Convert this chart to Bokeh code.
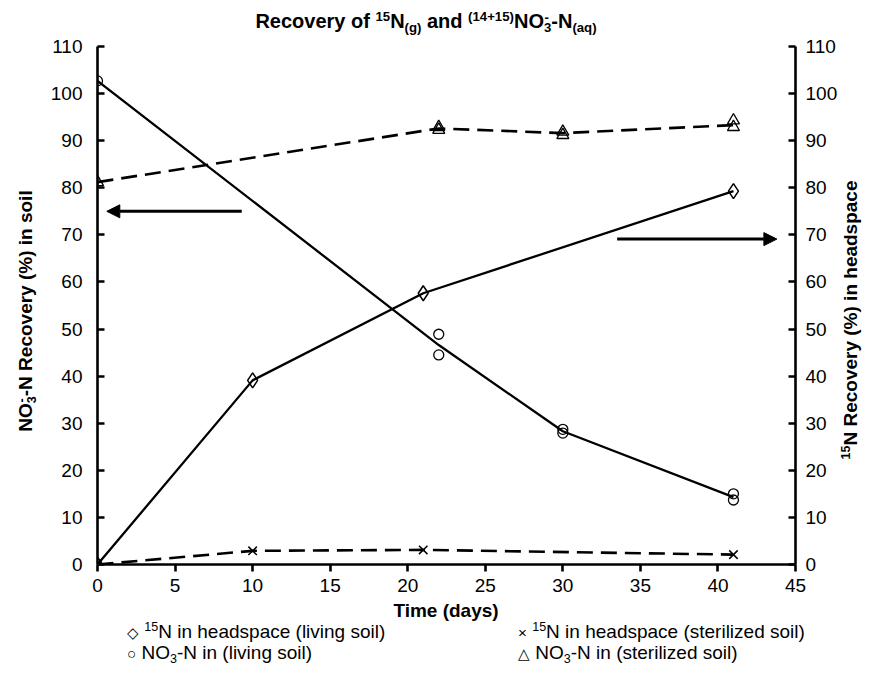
import math
from bokeh.plotting import figure
from bokeh.layouts import column, row
from bokeh.models import Range1d, LinearAxis, Arrow, NormalHead, FixedTicker, Div
from bokeh.embed import file_html
from bokeh.resources import INLINE

# ---------------- data ----------------
days_hs_living = [0, 10, 21, 41]
hs_living = [0.0, 39.1, 57.6, 79.3]

days_hs_steril = [0, 10, 21, 41]
hs_steril = [0.0, 2.9, 3.1, 2.1]

days_no3_living_rep = [0, 22, 22, 30, 30, 41, 41]
no3_living_rep = [102.7, 48.9, 44.5, 28.7, 27.9, 15.0, 13.7]
days_no3_living_mean = [0, 22, 30, 41]
no3_living_mean = [102.7, 46.6, 28.3, 14.3]

days_no3_steril_rep = [0, 22, 22, 30, 30, 41, 41]
no3_steril_rep = [81.2, 92.9, 92.3, 91.9, 91.2, 94.3, 92.9]
days_no3_steril_mean = [0, 22, 30, 41]
no3_steril_mean = [81.2, 92.6, 91.6, 93.3]

x_ticks = [0, 5, 10, 15, 20, 25, 30, 35, 40, 45]
y_ticks = [0, 10, 20, 30, 40, 50, 60, 70, 80, 90, 100, 110]

title_html = "Recovery of {sup15}N{sub_g} and {sup1415}NO{stack3}-N{sub_aq}"
left_title_html = "NO{stack3}-N Recovery (%) in soil"
right_title_html = "{sup15}N Recovery (%) in headspace"
x_title = "Time (days)"
legend_items = [
    ("\u25c7", "{sup15}N in headspace (living soil)"),
    ("\u00d7", "{sup15}N in headspace (sterilized soil)"),
    ("\u25cb", "NO{sub3}-N in (living soil)"),
    ("\u25b3", "NO{sub3}-N in (sterilized soil)"),
]

FONT = "Liberation Sans"
FS = 19

# ---------------- layout sizes ----------------
W = 868
TOP_H = 36
LEFT_W, RIGHT_W = 40, 28
MAIN_W = W - LEFT_W - RIGHT_W
MAIN_H = 564
BOT_H = 61
B_LEFT, B_RIGHT, B_TOP, B_BOTTOM = 57, 45, 10, 36
FRAME_H = MAIN_H - B_TOP - B_BOTTOM

# ---------------- main chart ----------------
p = figure(width=MAIN_W, height=MAIN_H, output_backend="svg", toolbar_location=None,
           x_range=Range1d(0, 45), y_range=Range1d(0, 110),
           min_border_left=B_LEFT, min_border_right=B_RIGHT,
           min_border_top=B_TOP, min_border_bottom=B_BOTTOM)
p.outline_line_color = None
p.grid.visible = False
p.background_fill_color = "white"
p.border_fill_color = "white"

p.extra_y_ranges = {"right": Range1d(0, 110)}
p.add_layout(LinearAxis(y_range_name="right"), "right")

for ax in p.xaxis:
    ax.ticker = FixedTicker(ticks=x_ticks)
    ax.major_tick_in = 0
    ax.major_tick_out = 7
    ax.major_label_standoff = 7
for ax in p.yaxis:
    ax.ticker = FixedTicker(ticks=y_ticks)
    ax.major_tick_in = 7
    ax.major_tick_out = 0
p.yaxis[0].major_label_standoff = 15
p.yaxis[1].major_label_standoff = 10
for ax in p.axis:
    ax.axis_line_width = 2.6
    ax.major_tick_line_width = 2.6
    ax.minor_tick_line_color = None
    ax.axis_line_color = "black"
    ax.major_tick_line_color = "black"
    ax.major_label_text_font = FONT
    ax.major_label_text_font_size = f"{FS}px"
    ax.major_label_text_color = "black"
    ax.axis_label = None

# lines (solid = living soil, dashed = sterilized soil)
p.line(days_hs_living, hs_living, line_color="black", line_width=2.3)
p.line(days_no3_living_mean, no3_living_mean, line_color="black", line_width=2.3)
p.line(days_hs_steril, hs_steril, line_color="black", line_width=2.6, line_dash="16 8")
p.line(days_no3_steril_mean, no3_steril_mean, line_color="black", line_width=2.6, line_dash="16 8")

# markers
p.scatter(days_hs_living, hs_living, marker="diamond", size=15, fill_color=None,
          line_color="black", line_width=1.5)
p.scatter(days_hs_steril, hs_steril, marker="x", size=12,
          line_color="black", line_width=1.5)
p.scatter(days_no3_living_rep, no3_living_rep, marker="circle", size=10, fill_color=None,
          line_color="black", line_width=1.3)
p.scatter(days_no3_steril_rep, no3_steril_rep, marker="triangle", size=12, fill_color=None,
          line_color="black", line_width=1.3)

# arrows pointing to the axes
p.add_layout(Arrow(x_start=9.3, y_start=75.0, x_end=0.6, y_end=75.0, line_width=3,
                   end=NormalHead(size=13, fill_color="black", line_color="black")))
p.add_layout(Arrow(x_start=33.5, y_start=69.1, x_end=43.8, y_end=69.1, line_width=3,
                   end=NormalHead(size=13, fill_color="black", line_color="black")))

# ---------------- HTML text (titles, legend) ----------------
SUP = '<span style="font-size:0.66em;position:relative;top:-0.55em">{}</span>'
SUB = '<span style="font-size:0.66em;position:relative;top:0.3em">{}</span>'
STACK = ('<span style="position:relative;display:inline-block">'
         '<span style="font-size:0.66em;position:relative;top:0.3em">3</span>'
         '<span style="font-size:0.66em;position:absolute;left:0.05em;top:-0.25em">-</span></span>')
PARTS = dict(sup15=SUP.format("15"), sub_g=SUB.format("(g)"), sup1415=SUP.format("(14+15)"),
             stack3=STACK, sub_aq=SUB.format("(aq)"), sub3=SUB.format("3"))


def font_css(size, bold):
    return (f"font-family:'{FONT}',Arial,sans-serif;font-size:{size}px;"
            f"font-weight:{'bold' if bold else 'normal'};white-space:nowrap;color:black;")


def line_div(html, x, baseline, size, bold=False, center=False):
    lh = round(size * 1.2)
    top = baseline - ((lh - 1.117 * size) / 2 + 0.905 * size)
    if center:
        pos = f"left:{x - 500:.1f}px;width:1000px;text-align:center;"
    else:
        pos = f"left:{x:.1f}px;"
    return (f'<div style="position:absolute;{pos}top:{top:.1f}px;line-height:{lh}px;'
            f'{font_css(size, bold)}">{html}</div>')


def vert_div(html, cx, cy, size, bold=True):
    lh = round(size * 1.2)
    return (f'<div style="position:absolute;left:{cx:.1f}px;top:{cy:.1f}px;line-height:{lh}px;'
            f'transform:translate(-50%,-50%) rotate(-90deg);{font_css(size, bold)}">'
            f'{html}</div>')


def box(inner, w, h, clip=False):
    return (f'<div style="position:relative;width:{w}px;height:{h}px;margin:0;padding:0;'
            f'overflow:{"hidden" if clip else "visible"};">{inner}</div>')


frame_mid_y = B_TOP + FRAME_H / 2

top_html = box(line_div(title_html.format(**PARTS), 426, 28, 20, bold=True, center=True),
               W, TOP_H)
left_html = box(vert_div(left_title_html.format(**PARTS), 27, frame_mid_y + 6, 19),
                LEFT_W, MAIN_H, clip=True)
right_html = box(vert_div(right_title_html.format(**PARTS), 12, frame_mid_y + 15, 19),
                 RIGHT_W, MAIN_H, clip=True)

frame_mid_x = LEFT_W + B_LEFT + (MAIN_W - B_LEFT - B_RIGHT) / 2
bot_inner = line_div(x_title, frame_mid_x, 17, 19, bold=True, center=True)
leg_x = [127, 518]
leg_base = [38, 59]
for i, (sym, txt) in enumerate(legend_items):
    cx, by = leg_x[i % 2], leg_base[i // 2]
    bot_inner += line_div(f'<span style="font-size:0.8em">{sym}</span> ' + txt.format(**PARTS),
                          cx, by, 19)
bot_html = box(bot_inner, W, BOT_H)

top_div = Div(text=top_html, width=W, height=TOP_H, margin=0)
left_div = Div(text=left_html, width=LEFT_W, height=MAIN_H, margin=0)
right_div = Div(text=right_html, width=RIGHT_W, height=MAIN_H, margin=0)
bot_div = Div(text=bot_html, width=W, height=BOT_H, margin=0)

layout = column(top_div, row(left_div, p, right_div, spacing=0), bot_div, spacing=0)
open("out.html", "w").write(file_html(layout, INLINE))
